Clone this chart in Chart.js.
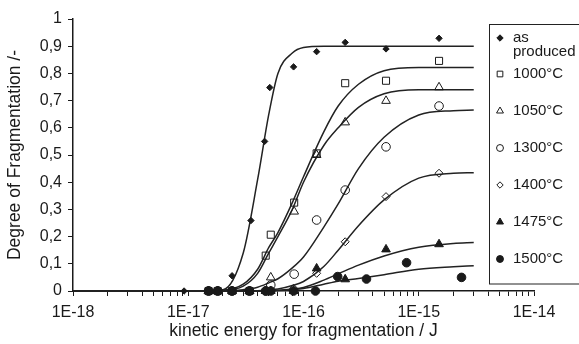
<!DOCTYPE html>
<html><head><meta charset="utf-8">
<script src="https://cdn.jsdelivr.net/npm/chart.js@4/dist/chart.umd.min.js"></script>
<style>html,body{margin:0;padding:0;background:#fff}#wrap{width:579px;height:344px;position:relative}</style>
</head><body><div id="wrap"><canvas id="c" width="579" height="344"></canvas></div>
<script>
// ---------- data ----------
const seriesNames = ['as produced', '1000°C', '1050°C', '1300°C', '1400°C', '1475°C', '1500°C'];
const xTickLabels = ['1E-18', '1E-17', '1E-16', '1E-15', '1E-14'];
const xDecades = [1e-18, 1e-17, 1e-16, 1e-15, 1e-14];
const minorMultipliers = [1, 2, 3, 4, 5, 6, 7, 8, 9];
const yTickLabels = ['0', '0,1', '0,2', '0,3', '0,4', '0,5', '0,6', '0,7', '0,8', '0,9', '1'];

// measured points (energy / J, degree of fragmentation)
const asProducedE = [9.2e-18, 1.5e-17, 1.8e-17, 2.4e-17, 3.5e-17, 4.6e-17, 5.1e-17, 8.2e-17, 1.3e-16, 2.3e-16, 5.2e-16, 1.5e-15];
const asProducedY = [0, 0, 0, 0.056, 0.259, 0.55, 0.748, 0.824, 0.88, 0.914, 0.89, 0.929];
const t1000E = [1.5e-17, 1.8e-17, 2.4e-17, 3.4e-17, 4.7e-17, 5.2e-17, 8.3e-17, 1.3e-16, 2.3e-16, 5.2e-16, 1.5e-15];
const t1000Y = [0, 0, 0, 0, 0.13, 0.207, 0.325, 0.506, 0.764, 0.773, 0.846];
const t1050E = [1.5e-17, 1.8e-17, 2.4e-17, 3.4e-17, 4.7e-17, 5.2e-17, 8.3e-17, 1.3e-16, 2.3e-16, 5.2e-16, 1.5e-15];
const t1050Y = [0, 0, 0, 0, 0, 0.05, 0.292, 0.5, 0.62, 0.699, 0.749];
const t1300E = [1.5e-17, 1.8e-17, 2.4e-17, 3.4e-17, 4.7e-17, 5.2e-17, 8.3e-17, 1.3e-16, 2.3e-16, 5.2e-16, 1.5e-15];
const t1300Y = [0, 0, 0, 0, 0, 0.022, 0.062, 0.261, 0.371, 0.53, 0.68];
const t1400E = [1.5e-17, 1.8e-17, 2.4e-17, 3.4e-17, 4.7e-17, 5.2e-17, 8.2e-17, 1.3e-16, 2.3e-16, 5.2e-16, 1.5e-15];
const t1400Y = [0, 0, 0, 0, 0, 0, 0.01, 0.065, 0.181, 0.347, 0.433];
const t1475E = [1.5e-17, 1.8e-17, 2.4e-17, 3.4e-17, 4.7e-17, 5.2e-17, 8.2e-17, 1.3e-16, 2.3e-16, 5.2e-16, 1.5e-15];
const t1475Y = [0, 0, 0, 0, 0, 0, 0, 0.083, 0.043, 0.153, 0.172];
const t1500E = [1.5e-17, 1.8e-17, 2.4e-17, 3.4e-17, 4.7e-17, 5.2e-17, 8.2e-17, 1.27e-16, 1.98e-16, 3.52e-16, 7.84e-16, 2.35e-15];
const t1500Y = [0, 0, 0, 0, 0, 0, 0, 0, 0.053, 0.044, 0.104, 0.05];

// fitted curves at these energies
const curveE = [1e-18, 1e-17, 2e-17, 3e-17, 4e-17, 5e-17, 6e-17, 8e-17, 1e-16, 1.5e-16, 2e-16, 3e-16, 5e-16, 1e-15, 2e-15, 3e-15];
const fitAsProduced = [0, 0, 0.005, 0.14, 0.41, 0.65, 0.80, 0.875, 0.895, 0.9, 0.9, 0.9, 0.9, 0.9, 0.9, 0.9];
const fit1000 = [0, 0, 0.003, 0.025, 0.08, 0.16, 0.215, 0.325, 0.42, 0.585, 0.68, 0.76, 0.81, 0.822, 0.822, 0.822];
const fit1050 = [0, 0, 0.002, 0.018, 0.065, 0.14, 0.2, 0.30, 0.40, 0.535, 0.60, 0.675, 0.725, 0.74, 0.74, 0.74];
const fit1300 = [0, 0, 0, 0.005, 0.014, 0.03, 0.045, 0.085, 0.125, 0.235, 0.32, 0.45, 0.565, 0.647, 0.663, 0.665];
const fit1400 = [0, 0, 0, 0, 0.001, 0.004, 0.007, 0.02, 0.035, 0.09, 0.15, 0.24, 0.335, 0.415, 0.433, 0.435];
const fit1475 = [0, 0, 0, 0, 0, 0.001, 0.003, 0.007, 0.013, 0.04, 0.063, 0.095, 0.129, 0.161, 0.175, 0.178];
const fit1500 = [0, 0, 0, 0, 0, 0.001, 0.002, 0.005, 0.009, 0.025, 0.036, 0.046, 0.06, 0.08, 0.089, 0.093];

// ---------- build ----------
const INK = '#1a1a1a';
const FONT = 'Liberation Sans, Arial, Helvetica, sans-serif';
const pts = (E, Y) => E.map((e, i) => ({x: e, y: Y[i]}));
const styles = [
  {pointStyle: 'rectRot', radius: 3.2, fill: true},
  {pointStyle: 'rect', radius: 5, fill: false},
  {pointStyle: 'triangle', radius: 5, fill: false},
  {pointStyle: 'circle', radius: 4.3, fill: false},
  {pointStyle: 'rectRot', radius: 4, fill: false},
  {pointStyle: 'triangle', radius: 5, fill: true},
  {pointStyle: 'circle', radius: 4.3, fill: true}
];
const pointSets = [pts(asProducedE, asProducedY), pts(t1000E, t1000Y), pts(t1050E, t1050Y), pts(t1300E, t1300Y), pts(t1400E, t1400Y), pts(t1475E, t1475Y), pts(t1500E, t1500Y)];
const fitSets = [fitAsProduced, fit1000, fit1050, fit1300, fit1400, fit1475, fit1500].map(f => pts(curveE, f));

const datasets = [];
fitSets.forEach((d, i) => datasets.push({
  type: 'line', label: seriesNames[i] + ' fit', data: d, borderColor: '#222', borderWidth: 1.5,
  pointRadius: 0, cubicInterpolationMode: 'monotone', fill: false, clip: false, order: 2
}));
pointSets.forEach((d, i) => datasets.push({
  type: 'scatter', label: seriesNames[i], data: d, showLine: false,
  pointStyle: styles[i].pointStyle, pointRadius: styles[i].radius, pointHoverRadius: styles[i].radius,
  pointBorderColor: INK, pointBorderWidth: 1,
  pointBackgroundColor: styles[i].fill ? INK : 'rgba(0,0,0,0)', clip: false, order: 1
}));

const legendPlugin = {
  id: 'boxLegend',
  afterDraw(chart) {
    const ctx = chart.ctx;
    ctx.save();
    ctx.strokeStyle = '#222';
    ctx.lineWidth = 1;
    ctx.strokeRect(489.5, 24.5, 100, 259.5);
    ctx.font = '15px ' + FONT;
    ctx.fillStyle = INK;
    ctx.textBaseline = 'middle';
    ctx.textAlign = 'left';
    const rows = [38, 74, 111, 148, 185, 222, 259];
    seriesNames.forEach((name, i) => {
      const y = rows[i];
      const s = styles[i];
      ctx.fillStyle = s.fill ? INK : 'rgba(0,0,0,0)';
      ctx.strokeStyle = INK;
      ctx.lineWidth = 1;
      const r = i === 0 ? s.radius : s.radius * 0.8;
      Chart.helpers.drawPoint(ctx, {pointStyle: s.pointStyle, radius: r, rotation: 0, borderWidth: 1}, 500, y);
      ctx.fillStyle = INK;
      if (i === 0) {
        const parts = name.split(' ');
        ctx.fillText(parts[0], 513, 38);
        ctx.fillText(parts[1], 513, 52);
      } else {
        ctx.fillText(name, 513, y);
      }
    });
    ctx.restore();
  }
};

new Chart(document.getElementById('c'), {
  data: {datasets},
  plugins: [legendPlugin],
  options: {
    responsive: false, animation: false, devicePixelRatio: 1,
    layout: {padding: {top: 19, right: 45, left: 0, bottom: 0}},
    plugins: {legend: {display: false}, tooltip: {enabled: false}},
    scales: {
      x: {
        type: 'logarithmic', min: 1e-18, max: 1e-14,
        afterFit(s) { s.height = 53; },
        afterBuildTicks(s) {
          const t = [];
          xDecades.forEach((d, k) => {
            if (k === xDecades.length - 1) { t.push({value: d}); return; }
            minorMultipliers.forEach(m => t.push({value: d * m}));
          });
          s.ticks = t;
        },
        ticks: {
          autoSkip: false, maxRotation: 0, padding: 7, color: INK,
          font: {family: FONT, size: 16},
          callback(v) {
            const k = xDecades.findIndex(d => Math.abs(d - v) / d < 1e-6);
            return k >= 0 ? xTickLabels[k] : '';
          }
        },
        grid: {drawOnChartArea: false, drawTicks: true, tickLength: 5, color: INK, lineWidth: 1},
        border: {display: true, color: INK, width: 1.5},
        title: {display: true, text: 'kinetic energy for fragmentation / J', color: INK,
          font: {family: FONT, size: 17.5}, padding: {top: 0, bottom: 2}}
      },
      y: {
        type: 'linear', min: 0, max: 1,
        afterFit(s) { s.width = 73; },
        ticks: {
          stepSize: 0.1, padding: 6, color: INK, font: {family: FONT, size: 16},
          callback(v) { return yTickLabels[Math.round(v * 10)]; }
        },
        grid: {drawOnChartArea: false, drawTicks: true, tickLength: 5, color: INK, lineWidth: 1},
        border: {display: true, color: INK, width: 1.5},
        title: {display: true, text: 'Degree of Fragmentation /-', color: INK,
          font: {family: FONT, size: 17.5}, padding: {top: 5, bottom: 0}}
      }
    }
  }
});
</script></body></html>
